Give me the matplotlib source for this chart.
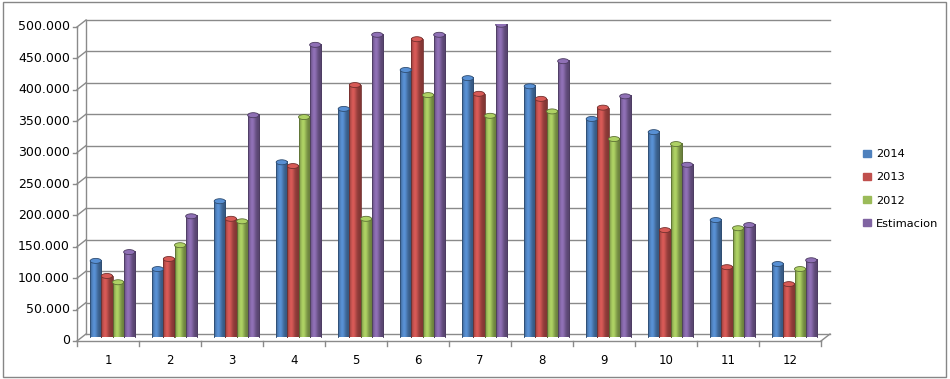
import numpy as np
import matplotlib
matplotlib.use("Agg")
import matplotlib.pyplot as plt
import matplotlib.transforms as mtransforms
from matplotlib.patches import Rectangle, Ellipse, Patch
from matplotlib.colors import to_rgb

months = [1, 2, 3, 4, 5, 6, 7, 8, 9, 10, 11, 12]
labels = ["2014", "2013", "2012", "Estimacion"]
v2014 = [122000, 109000, 217000, 279000, 364000, 426000, 413000, 400000, 348000, 327000, 187000, 117000]
v2013 = [98000, 125000, 189000, 273000, 402000, 475000, 388000, 380000, 366000, 171000, 112000, 85000]
v2012 = [88000, 147000, 185000, 351000, 189000, 386000, 353000, 360000, 316000, 308000, 174000, 109000]
vest = [136000, 193000, 354000, 466000, 482000, 482000, 498000, 440000, 384000, 275000, 179000, 123000]
yticks = [0, 50000, 100000, 150000, 200000, 250000, 300000, 350000, 400000, 450000, 500000]

colors = ["#4F81BD", "#C0504D", "#9BBB59", "#8064A2"]
series = [v2014, v2013, v2012, vest]

W, H = 950, 379
fig = plt.figure(figsize=(9.5, 3.79), dpi=100)
fig.patch.set_facecolor("white")
ax = fig.add_axes([81.5 / W, (H - 337.5) / H, 744 / W, 314 / H])
ax.axis("off")

def shift(dx, dy):
    return ax.transData + mtransforms.ScaledTranslation(dx / 100, dy / 100, fig.dpi_scale_trans)

front = shift(-4.5, -3.5)
back = shift(4.5, 3.5)
gc = "#8a8a8a"

# back wall gridlines
for t in yticks:
    ax.plot([0.5, 12.5], [t, t], transform=back, color=gc, lw=1, clip_on=False)
ax.plot([0.5, 0.5], [0, 500000], transform=back, color=gc, lw=1, clip_on=False)

# front axes
ax.plot([0.5, 0.5], [0, 500000], transform=front, color=gc, lw=1, clip_on=False)
ax.plot([0.5, 12.5], [0, 0], transform=front, color=gc, lw=1, clip_on=False)

ax.set_xlim(0.5, 12.5)
ax.set_ylim(0, 500000)
fig.canvas.draw()

ident = mtransforms.IdentityTransform()
for t in yticks:
    x0, y0 = front.transform((0.5, t))
    x1, y1 = back.transform((0.5, t))
    ax.plot([x0, x1], [y0, y1], transform=ident, color=gc, lw=1, clip_on=False)
    ax.plot([x0 - 4, x0], [y0, y0], transform=ident, color=gc, lw=1, clip_on=False)
    ax.text(x0 - 7, y0, f"{t:,}".replace(",", "."), transform=ident,
            ha="right", va="center", fontsize=9, color="black")
x0, y0 = front.transform((12.5, 0))
x1, y1 = back.transform((12.5, 0))
ax.plot([x0, x1], [y0, y1], transform=ident, color=gc, lw=1, clip_on=False)
for k in range(13):
    xa, ya = front.transform((0.5 + k, 0))
    ax.plot([xa, xa], [ya, ya - 5], transform=ident, color=gc, lw=1, clip_on=False)
for m in months:
    xa, ya = front.transform((m, 0))
    ax.text(xa, ya - 19, str(m), transform=ident, ha="center", va="center",
            fontsize=8.5, color="black")

# cylinder bars
bw = 0.18
offs = [-0.27, -0.09, 0.09, 0.27]
prof = np.linspace(0, 1, 40)
shade = 0.68 + 0.45 * np.exp(-((prof - 0.35) / 0.3) ** 2)
cap_h = 5 / 314 * 500000
for vals, c, o in zip(series, colors, offs):
    base = np.array(to_rgb(c))
    img = np.clip(base[None, :] * shade[:, None], 0, 1)[None, :, :]
    dark = base * 0.6
    for m, v in zip(months, vals):
        xl = m + o - bw / 2
        ax.imshow(img, extent=[xl, xl + bw, 0, v], aspect="auto", zorder=3,
                  interpolation="bilinear")
        ax.add_patch(Rectangle((xl, 0), bw, v, fill=False, ec=dark, lw=0.6, zorder=4))
        ax.add_patch(Ellipse((m + o, v), bw, cap_h, fc=np.clip(base * 1.12, 0, 1),
                             ec=dark, lw=0.6, zorder=5))

ax.set_xlim(0.5, 12.5)
ax.set_ylim(0, 500000)

handles = [Patch(facecolor=c, edgecolor=c) for c in colors]
fig.legend(handles, labels, loc="center left", bbox_to_anchor=(853 / W, (H - 189) / H),
           frameon=False, fontsize=8.2, handlelength=0.65, handleheight=0.65,
           handletextpad=0.45, labelspacing=1.15)

fig.patches.append(Rectangle((3 / W, 2 / H), 943 / W, 375 / H, transform=fig.transFigure,
                             fill=False, ec="#868686", lw=1))

fig.savefig("out.png", dpi=100)
